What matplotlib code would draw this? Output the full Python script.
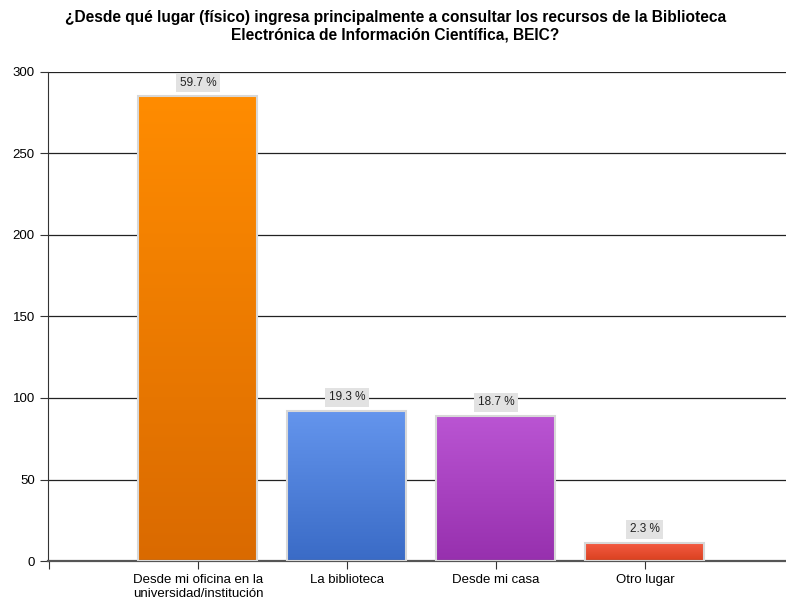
import matplotlib
matplotlib.use("Agg")
import matplotlib.pyplot as plt
import matplotlib.colors as mcolors
import numpy as np

plt.rcParams["font.family"] = ["Liberation Sans", "DejaVu Sans"]

# data
categories = ["Desde mi oficina en la\nuniversidad/institución", "La biblioteca",
              "Desde mi casa", "Otro lugar"]
counts = [285, 92, 89, 11]
top_colors = ["#FF8C00", "#6495ED", "#BA55D3", "#F45B42"]
bottom_colors = ["#DA6A00", "#3A6BC6", "#9730AE", "#D9401F"]

total = sum(counts)

fig = plt.figure(figsize=(7.86, 6.01), dpi=100)
ax = fig.add_axes([48/786, 1-561/601, 1-48/786, (561-72)/601])

xpos = np.arange(1, len(counts)+1)
bars = ax.bar(xpos, counts, width=0.8, color="none", edgecolor="#D8D8D8", linewidth=1.5, zorder=3)

# gradient fill for each bar
for b, ctop, cbot in zip(bars, top_colors, bottom_colors):
    x0, y0 = b.get_x(), b.get_y()
    w, h = b.get_width(), b.get_height()
    cmap = mcolors.LinearSegmentedColormap.from_list("g", [cbot, ctop])
    grad = np.linspace(0, 1, 256).reshape(-1, 1)
    im = ax.imshow(grad, cmap=cmap, origin="lower", aspect="auto",
                   extent=[x0, x0+w, y0, y0+h], zorder=2)
    im.set_clip_path(b)

# percentage labels
for x, c in zip(xpos, counts):
    ax.annotate(f"{100*c/total:.1f} %", (x, c), xytext=(0, 5.5), textcoords="offset points",
                ha="center", va="bottom", fontsize=8.5, color="#222222", zorder=5,
                bbox=dict(boxstyle="square,pad=0.3", fc="#E2E2E2", ec="none"))

ax.set_xlim(-0.006, 4.947)
ax.set_ylim(0, 300)
ax.set_yticks([0, 50, 100, 150, 200, 250, 300])
ax.set_xticks([0] + list(xpos))
ax.set_xticklabels([""] + categories, fontsize=9.5)
ax.tick_params(axis="y", labelsize=9.5, length=6, color="#333333")
ax.tick_params(axis="x", length=6, color="#333333")
ax.yaxis.grid(True, color="#222222", linewidth=0.9, zorder=1)
ax.set_axisbelow(True)
for s in ["top", "right"]:
    ax.spines[s].set_visible(False)
ax.spines["left"].set_color("#333333")
ax.spines["bottom"].set_color("#555555")
ax.spines["bottom"].set_linewidth(1.6)

fig.suptitle("¿Desde qué lugar (físico) ingresa principalmente a consultar los recursos de la Biblioteca\n"
             "Electrónica de Información Científica, BEIC?",
             x=0.503, y=0.984, fontsize=11.2, fontweight="bold", linespacing=1.2)

fig.savefig("out.png", dpi=100)
